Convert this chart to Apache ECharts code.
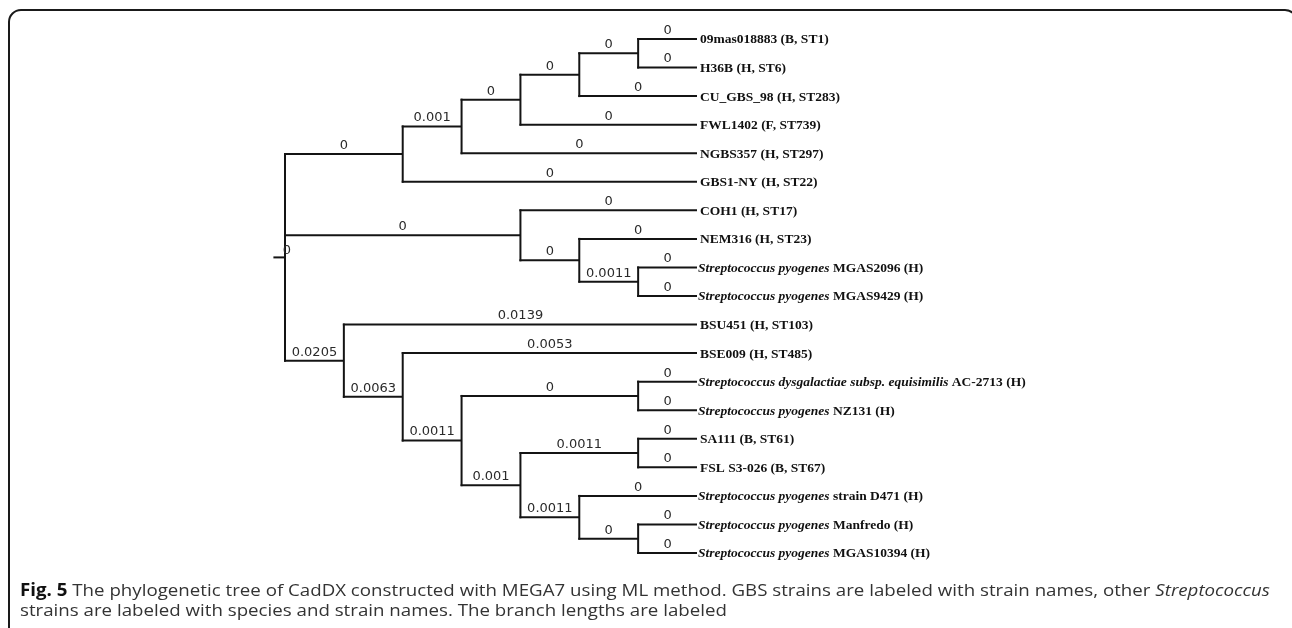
<!DOCTYPE html>
<html>
<head>
<meta charset="utf-8">
<script src="https://cdn.jsdelivr.net/npm/echarts@6/dist/echarts.min.js"></script>
<style>
  html, body { margin: 0; padding: 0; background: #fff; }
  #chart { width: 1292px; height: 628px; }
</style>
</head>
<body>
<div id="chart"></div>
<script>
  // internal nodes of the tree: depth = column of the node, parent = name of parent node
  const nodeNames = ['root', 'a', 'b', 'c', 'd', 'e', 'f', 'g', 'h', 'i', 'j', 'k', 'l', 'm', 'n', 'o', 'p']
  const nodeDepth = [0, 2, 3, 4, 5, 6, 4, 5, 6, 1, 2, 3, 6, 4, 6, 5, 6]
  const nodeParent = [null, 'root', 'a', 'b', 'c', 'd', 'root', 'f', 'g', 'root', 'i', 'j', 'k', 'k', 'm', 'm', 'o']
  const nodeBranch = ['0', '0', '0.001', '0', '0', '0', '0', '0', '0.0011', '0.0205', '0.0063', '0.0011', '0', '0.001', '0.0011', '0.0011', '0']

  // leaves (top to bottom)
  const leafSpecies = ['', '', '', '', '', '', '', '',
    'Streptococcus pyogenes', 'Streptococcus pyogenes', '', '',
    'Streptococcus dysgalactiae subsp. equisimilis', 'Streptococcus pyogenes', '', '',
    'Streptococcus pyogenes', 'Streptococcus pyogenes', 'Streptococcus pyogenes']
  const leafStrain = ['09mas018883 (B, ST1)', 'H36B (H, ST6)', 'CU_GBS_98 (H, ST283)', 'FWL1402 (F, ST739)',
    'NGBS357 (H, ST297)', 'GBS1-NY (H, ST22)', 'COH1 (H, ST17)', 'NEM316 (H, ST23)',
    'MGAS2096 (H)', 'MGAS9429 (H)', 'BSU451 (H, ST103)', 'BSE009 (H, ST485)',
    'AC-2713 (H)', 'NZ131 (H)', 'SA111 (B, ST61)', 'FSL S3-026 (B, ST67)',
    'strain D471 (H)', 'Manfredo (H)', 'MGAS10394 (H)']
  const leafParent = ['e', 'e', 'd', 'c', 'b', 'a', 'f', 'g', 'h', 'h', 'i', 'j', 'l', 'l', 'n', 'n', 'o', 'p', 'p']
  const leafBranch = ['0', '0', '0', '0', '0', '0', '0', '0', '0', '0', '0.0139', '0.0053', '0', '0', '0', '0', '0', '0', '0']
  const leafDepth = 7
  const rootStub = -0.18
  const rootLabel = '0'

  const captionLine1 = ['Fig. 5', ' The phylogenetic tree of CadDX constructed with MEGA7 using ML method. GBS strains are labeled with strain names, other ', 'Streptococcus']
  const captionLine2 = 'strains are labeled with species and strain names. The branch lengths are labeled'

  // y of each internal node = middle of its children's span
  const nodeY = {}
  const nodeSpan = {}
  function yOf (name) {
    if (nodeY[name] !== undefined) return nodeY[name]
    const ys = []
    leafParent.forEach((p, i) => { if (p === name) ys.push(i) })
    nodeNames.forEach((n, k) => { if (nodeParent[k] === name) ys.push(yOf(n)) })
    const lo = Math.min.apply(null, ys)
    const hi = Math.max.apply(null, ys)
    nodeY[name] = (lo + hi) / 2
    nodeSpan[name] = [lo, hi]
    return nodeY[name]
  }
  nodeNames.forEach(n => yOf(n))
  const depthOf = {}
  nodeNames.forEach((n, k) => { depthOf[n] = nodeDepth[k] })

  // horizontal branches: [fromDepth, toDepth, y, label]
  const hBranches = []
  nodeNames.forEach((n, k) => {
    if (nodeParent[k]) hBranches.push([depthOf[nodeParent[k]], nodeDepth[k], nodeY[n], nodeBranch[k]])
  })
  leafParent.forEach((p, i) => hBranches.push([depthOf[p], leafDepth, i, leafBranch[i]]))
  hBranches.push([rootStub, 0, nodeY.root, ''])

  // vertical joins: [depth, yTop, yBottom]
  const vJoins = nodeNames.map(n => [depthOf[n], nodeSpan[n][0], nodeSpan[n][1]])

  const leafData = leafStrain.map((s, i) => [leafDepth, i, leafSpecies[i], s])

  const lineColor = '#141414'
  const labelFont = '13px "DejaVu Sans"'
  const chart = echarts.init(document.getElementById('chart'))
  chart.setOption({
    animation: false,
    grid: { left: 285, top: 39, width: 412, height: 514 },
    xAxis: { type: 'value', min: 0, max: 7, show: false },
    yAxis: { type: 'value', min: 0, max: 18, inverse: true, show: false },
    series: [
      {
        type: 'custom',
        clip: false,
        data: hBranches,
        renderItem (params, api) {
          const p0 = api.coord([api.value(0), api.value(2)])
          const p1 = api.coord([api.value(1), api.value(2)])
          const label = hBranches[params.dataIndex][3]
          return {
            type: 'group',
            children: [
              {
                type: 'line',
                shape: { x1: p0[0] - 1, y1: p0[1], x2: p1[0], y2: p1[1] },
                style: { stroke: lineColor, lineWidth: 2 }
              },
              {
                type: 'text',
                x: (p0[0] + p1[0]) / 2,
                y: p0[1] - 8.5,
                style: {
                  text: label,
                  fill: '#2a2a2a',
                  font: labelFont,
                  align: 'center',
                  verticalAlign: 'middle'
                }
              }
            ]
          }
        }
      },
      {
        type: 'custom',
        clip: false,
        data: vJoins,
        renderItem (params, api) {
          const p0 = api.coord([api.value(0), api.value(1)])
          const p1 = api.coord([api.value(0), api.value(2)])
          return {
            type: 'line',
            shape: { x1: p0[0], y1: p0[1] - 1, x2: p1[0], y2: p1[1] + 1 },
            style: { stroke: lineColor, lineWidth: 2 }
          }
        }
      },
      {
        type: 'custom',
        clip: false,
        data: [[0, nodeY.root]],
        renderItem (params, api) {
          const p = api.coord([api.value(0), api.value(1)])
          return {
            type: 'text',
            x: p[0] + 2,
            y: p[1] - 7,
            style: { text: rootLabel, fill: '#2a2a2a', font: labelFont, align: 'center', verticalAlign: 'middle' }
          }
        }
      },
      {
        type: 'custom',
        clip: false,
        data: leafData,
        renderItem (params, api) {
          const p = api.coord([api.value(0), api.value(1)])
          const d = leafData[params.dataIndex]
          const text = d[2] ? '{i|' + d[2] + '} {b|' + d[3] + '}' : '{b|' + d[3] + '}'
          return {
            type: 'text',
            x: p[0] + (d[2] ? 1 : 3),
            y: p[1] + 1,
            style: {
              text: text,
              verticalAlign: 'middle',
              align: 'left',
              rich: {
                i: { font: 'italic bold 13.5px "Liberation Serif"', fill: '#111' },
                b: { font: 'bold 13.5px "Liberation Serif"', fill: '#111' }
              }
            }
          }
        }
      }
    ],
    graphic: [
      {
        type: 'rect',
        shape: { x: 9, y: 10, width: 1288, height: 700, r: 12 },
        style: { fill: 'none', stroke: '#1a1a1a', lineWidth: 2 }
      },
      {
        type: 'text',
        x: 20,
        y: 583,
        scaleX: 1.1,
        style: {
          text: '{b|' + captionLine1[0] + '}' + captionLine1[1] + '{i|' + captionLine1[2] + '}',
          font: '17px "Open Sans"',
          fill: '#333',
          rich: {
            b: { font: 'bold 17px "Open Sans"', fill: '#111' },
            i: { font: 'italic 17px "Open Sans"', fill: '#333' }
          }
        }
      },
      {
        type: 'text',
        x: 20,
        y: 603,
        scaleX: 1.1,
        style: {
          text: captionLine2,
          font: '17px "Open Sans"',
          fill: '#333'
        }
      }
    ]
  })
</script>
</body>
</html>
